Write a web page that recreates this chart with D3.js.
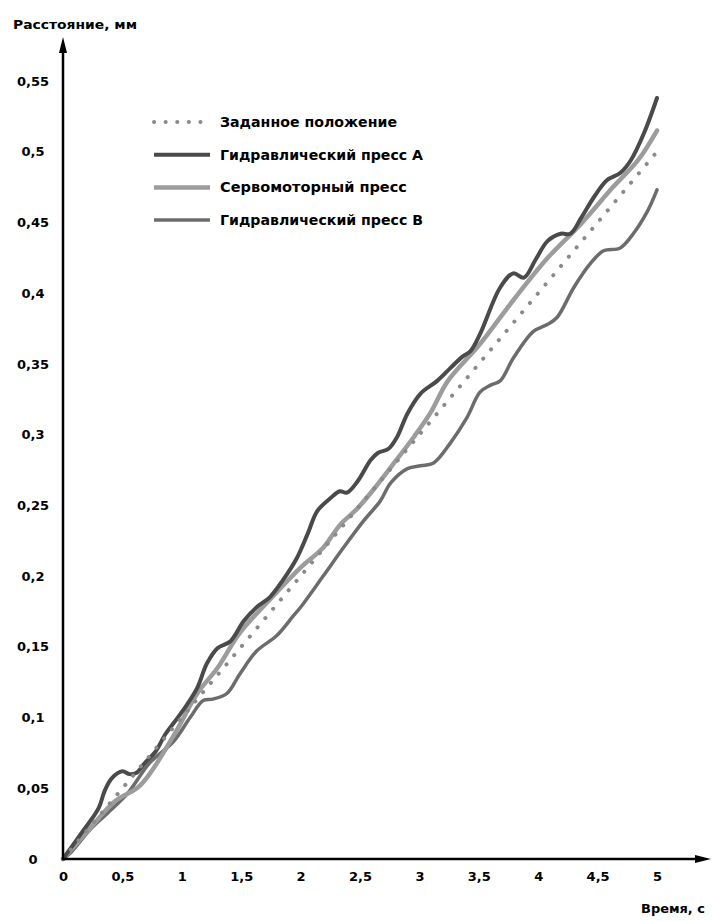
<!DOCTYPE html>
<html>
<head>
<meta charset="utf-8">
<script src="https://cdn.jsdelivr.net/npm/d3@7"></script>
<style>
  html, body { margin: 0; padding: 0; background: #fff; }
  text { font-family: "DejaVu Sans", "Liberation Sans", Arial, sans-serif; font-weight: bold; fill: #000; }
</style>
</head>
<body>
<div id="chart"></div>
<script>
// Tick values and their labels (comma decimals as in the original)
const xTicks = [0, 0.5, 1, 1.5, 2, 2.5, 3, 3.5, 4, 4.5, 5];
const xTickLabels = ['0', '0,5', '1', '1,5', '2', '2,5', '3', '3,5', '4', '4,5', '5'];
const yTicks = [0, 0.05, 0.1, 0.15, 0.2, 0.25, 0.3, 0.35, 0.4, 0.45, 0.5, 0.55];
const yTickLabels = ['0', '0,05', '0,1', '0,15', '0,2', '0,25', '0,3', '0,35', '0,4', '0,45', '0,5', '0,55'];

// Series: [time, s ; distance, mm]
const desired = [[0, 0], [5, 0.5]];

const pressA = [
  [0, 0], [0.17, 0.02], [0.3, 0.036], [0.35, 0.048], [0.41, 0.057], [0.5, 0.062],
  [0.56, 0.06], [0.62, 0.061], [0.69, 0.068], [0.78, 0.076], [0.86, 0.088], [0.93, 0.096],
  [1.01, 0.105], [1.13, 0.121], [1.21, 0.138], [1.3, 0.149], [1.41, 0.154], [1.52, 0.168],
  [1.63, 0.178], [1.74, 0.185], [1.85, 0.197], [1.97, 0.213], [2.06, 0.23], [2.14, 0.246],
  [2.25, 0.255], [2.33, 0.26], [2.39, 0.259], [2.48, 0.267], [2.59, 0.282], [2.65, 0.287],
  [2.74, 0.29], [2.81, 0.298], [2.9, 0.315], [3.01, 0.329], [3.15, 0.338], [3.26, 0.347],
  [3.36, 0.355], [3.43, 0.359], [3.51, 0.371], [3.68, 0.404], [3.79, 0.414], [3.88, 0.411],
  [3.98, 0.424], [4.08, 0.437], [4.19, 0.442], [4.27, 0.442], [4.36, 0.453], [4.47, 0.468],
  [4.58, 0.48], [4.69, 0.485], [4.78, 0.494], [4.89, 0.513], [5, 0.538]
];

const servoPress = [
  [0, 0], [0.23, 0.022], [0.44, 0.041], [0.65, 0.052], [0.93, 0.087], [1.13, 0.117],
  [1.3, 0.135], [1.49, 0.16], [1.77, 0.186], [2, 0.206], [2.19, 0.22], [2.33, 0.236],
  [2.48, 0.248], [2.65, 0.265], [2.76, 0.277], [2.95, 0.298], [3.09, 0.315], [3.24, 0.338],
  [3.51, 0.364], [3.79, 0.395], [4.08, 0.425], [4.36, 0.449], [4.63, 0.475], [4.84, 0.494],
  [5, 0.515]
];

const pressB = [
  [0, 0], [0.06, 0.004], [0.23, 0.021], [0.37, 0.032], [0.54, 0.046], [0.73, 0.068],
  [0.93, 0.083], [1.07, 0.1], [1.18, 0.112], [1.26, 0.113], [1.38, 0.117], [1.49, 0.131],
  [1.63, 0.147], [1.8, 0.158], [1.94, 0.172], [2, 0.178], [2.19, 0.2], [2.36, 0.22],
  [2.53, 0.239], [2.67, 0.253], [2.76, 0.266], [2.9, 0.276], [3.01, 0.278], [3.12, 0.28],
  [3.26, 0.294], [3.4, 0.312], [3.51, 0.33], [3.6, 0.335], [3.68, 0.338], [3.79, 0.354],
  [3.96, 0.373], [4.08, 0.378], [4.16, 0.383], [4.3, 0.404], [4.44, 0.421], [4.55, 0.43],
  [4.69, 0.432], [4.8, 0.442], [4.92, 0.458], [5, 0.473]
];

const seriesNames = ['Заданное положение', 'Гидравлический пресс A', 'Сервомоторный пресс', 'Гидравлический пресс B'];

const width = 712, height = 921;
const originX = 63, originY = 859;

const x = d3.scaleLinear().domain([0, 5]).range([originX, 657]);
const y = d3.scaleLinear().domain([0, 0.55]).range([originY, 81]);

const svg = d3.select('#chart').append('svg')
  .attr('width', width)
  .attr('height', height);

const series = [
  { name: seriesNames[0], data: desired, color: '#8a8a8a', width: 4, dash: '0.1,12' },
  { name: seriesNames[1], data: pressA, color: '#4a4a4a', width: 4, dash: null },
  { name: seriesNames[2], data: servoPress, color: '#9c9c9c', width: 4.5, dash: null },
  { name: seriesNames[3], data: pressB, color: '#6c6c6c', width: 3.5, dash: null }
];

const line = d3.line()
  .x(d => x(d[0]))
  .y(d => y(d[1]))
  .curve(d3.curveCatmullRom.alpha(0.5));

// Draw lines (dotted one on top so the dots stay visible)
[series[3], series[2], series[1], series[0]].forEach(s => {
  svg.append('path')
    .datum(s.data)
    .attr('d', line)
    .attr('fill', 'none')
    .attr('stroke', s.color)
    .attr('stroke-width', s.width)
    .attr('stroke-linecap', 'round')
    .attr('stroke-linejoin', 'round')
    .attr('stroke-dasharray', s.dash);
});

// Axes: labels only, lines with arrows drawn separately
const xAxis = svg.append('g')
  .attr('transform', `translate(0,${originY})`)
  .call(d3.axisBottom(x).tickValues(xTicks).tickSize(0).tickPadding(13)
    .tickFormat((d, i) => xTickLabels[i]));
xAxis.select('.domain').remove();
xAxis.selectAll('text').style('font-size', '13px').style('font-family', null);

const yAxis = svg.append('g')
  .attr('transform', `translate(${originX},0)`)
  .call(d3.axisLeft(y).tickValues(yTicks).tickSize(0).tickPadding(30)
    .tickFormat((d, i) => yTickLabels[i]));
yAxis.select('.domain').remove();
yAxis.selectAll('text')
  .attr('text-anchor', 'middle')
  .style('font-size', '13px')
  .style('font-family', null);

svg.append('line')
  .attr('x1', originX).attr('y1', originY + 1)
  .attr('x2', originX).attr('y2', 48)
  .attr('stroke', '#000').attr('stroke-width', 2.5);
svg.append('path')
  .attr('d', `M${originX},37 L${originX + 4},53 L${originX - 4},53 Z`)
  .attr('fill', '#000');

svg.append('line')
  .attr('x1', originX - 1).attr('y1', originY)
  .attr('x2', 700).attr('y2', originY)
  .attr('stroke', '#000').attr('stroke-width', 2.5);
svg.append('path')
  .attr('d', `M711,${originY} L695,${originY - 4} L695,${originY + 4} Z`)
  .attr('fill', '#000');

// Axis titles
svg.append('text')
  .attr('x', 13).attr('y', 29)
  .style('font-size', '13px')
  .attr('textLength', 124)
  .attr('lengthAdjust', 'spacingAndGlyphs')
  .text('Расстояние, мм');

svg.append('text')
  .attr('x', 641).attr('y', 913)
  .style('font-size', '13px')
  .attr('textLength', 64)
  .attr('lengthAdjust', 'spacingAndGlyphs')
  .text('Время, с');

// Legend
const legendWidths = [177, 203, 187, 203];
const legend = svg.append('g');
series.forEach((s, i) => {
  const ly = 122 + i * 32.7;
  legend.append('line')
    .attr('x1', 154).attr('x2', 210)
    .attr('y1', ly).attr('y2', ly)
    .attr('stroke', s.color)
    .attr('stroke-width', s.width)
    .attr('stroke-dasharray', s.dash ? '0.1,11.5' : null)
    .attr('stroke-linecap', s.dash ? 'round' : 'butt');
  legend.append('text')
    .attr('x', 220).attr('y', ly + 5)
    .style('font-size', '13.5px')
    .attr('textLength', legendWidths[i])
    .attr('lengthAdjust', 'spacingAndGlyphs')
    .text(s.name);
});
</script>
</body>
</html>
